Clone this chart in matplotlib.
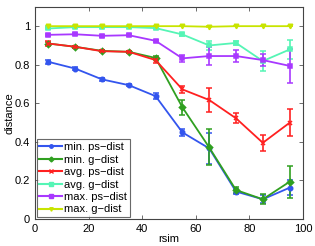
import matplotlib
matplotlib.use("Agg")
import matplotlib.pyplot as plt
from matplotlib.lines import Line2D

rsim = [5, 15, 25, 35, 45, 55, 65, 75, 85, 95]

min_ps = [0.815, 0.780, 0.724, 0.694, 0.637, 0.449, 0.366, 0.142, 0.102, 0.162]
min_ps_err = [0.012, 0.006, 0.006, 0.006, 0.015, 0.02, 0.08, 0.015, 0.02, 0.04]
min_g = [0.910, 0.893, 0.872, 0.867, 0.835, 0.579, 0.371, 0.150, 0.102, 0.193]
min_g_err = [0.01, 0.006, 0.006, 0.006, 0.01, 0.04, 0.093, 0.015, 0.025, 0.082]
avg_ps = [0.910, 0.893, 0.870, 0.867, 0.824, 0.672, 0.617, 0.522, 0.395, 0.499]
avg_ps_err = [0.012, 0.006, 0.006, 0.006, 0.015, 0.02, 0.06, 0.025, 0.04, 0.07]
avg_g = [0.988, 0.995, 0.995, 0.995, 0.990, 0.957, 0.900, 0.913, 0.819, 0.879]
avg_g_err = [0.004, 0.003, 0.003, 0.003, 0.004, 0.008, 0.025, 0.01, 0.05, 0.05]
max_ps = [0.955, 0.958, 0.950, 0.953, 0.924, 0.833, 0.845, 0.845, 0.824, 0.794]
max_ps_err = [0.005, 0.004, 0.004, 0.004, 0.005, 0.02, 0.045, 0.03, 0.03, 0.09]
max_g = [1.0, 1.0, 1.0, 1.0, 1.0, 1.0, 0.997, 1.0, 1.0, 1.0]
max_g_err = [0.002, 0.001, 0.001, 0.001, 0.001, 0.001, 0.002, 0.001, 0.001, 0.001]

labels = ["min. ps\u2212dist", "min. g\u2212dist", "avg. ps\u2212dist",
          "avg. g\u2212dist", "max. ps\u2212dist", "max. g\u2212dist"]
colors = ["#3355ee", "#30a020", "#ff2020", "#55f5b5", "#a838ff", "#c8e400"]
markers = ["o", "D", "x", "s", "s", "v"]

series = [(min_ps, min_ps_err), (min_g, min_g_err), (avg_ps, avg_ps_err),
          (avg_g, avg_g_err), (max_ps, max_ps_err), (max_g, max_g_err)]

plt.rcParams['font.family'] = ['Liberation Sans', 'DejaVu Sans']
fig = plt.figure(figsize=(3.15, 2.46), dpi=100)
ax = fig.add_axes([0.111, 0.110, 0.851, 0.862])

handles = []
for (y, e), lab, c, m in zip(series, labels, colors, markers):
    ax.errorbar(rsim, y, yerr=e, color=c, marker=m, markersize=3.2,
                markeredgewidth=1.1, linewidth=1.3, elinewidth=1.2,
                capsize=2.5, capthick=1.0)
    handles.append(Line2D([], [], color=c, marker=m, markersize=2.5,
                          linewidth=1.5, label=lab))

ax.set_xlim(0, 100)
ax.set_ylim(0, 1.1)
ax.set_xticks([0, 20, 40, 60, 80, 100])
ax.set_yticks([0, 0.2, 0.4, 0.6, 0.8, 1.0])
ax.set_yticklabels(["0", "0.2", "0.4", "0.6", "0.8", "1"])
ax.tick_params(direction='in', top=True, right=True, labelsize=8, length=3,
               width=0.6, color='#555555')
for s in ax.spines.values():
    s.set_linewidth(0.8)
    s.set_color('#444444')
ax.set_xlabel("rsim", fontsize=8)
ax.xaxis.set_label_coords(0.5, -0.072)
ax.set_ylabel("distance", fontsize=8)
ax.yaxis.set_label_coords(-0.075, 0.5)

leg = ax.legend(handles=handles, loc='lower left', fontsize=8, frameon=True,
                fancybox=False, edgecolor='#444444', borderaxespad=0.15,
                handlelength=2.0, handletextpad=0.2, labelspacing=0.22,
                borderpad=0.25)
leg.get_frame().set_linewidth(0.8)

fig.savefig("out.png", dpi=100)
